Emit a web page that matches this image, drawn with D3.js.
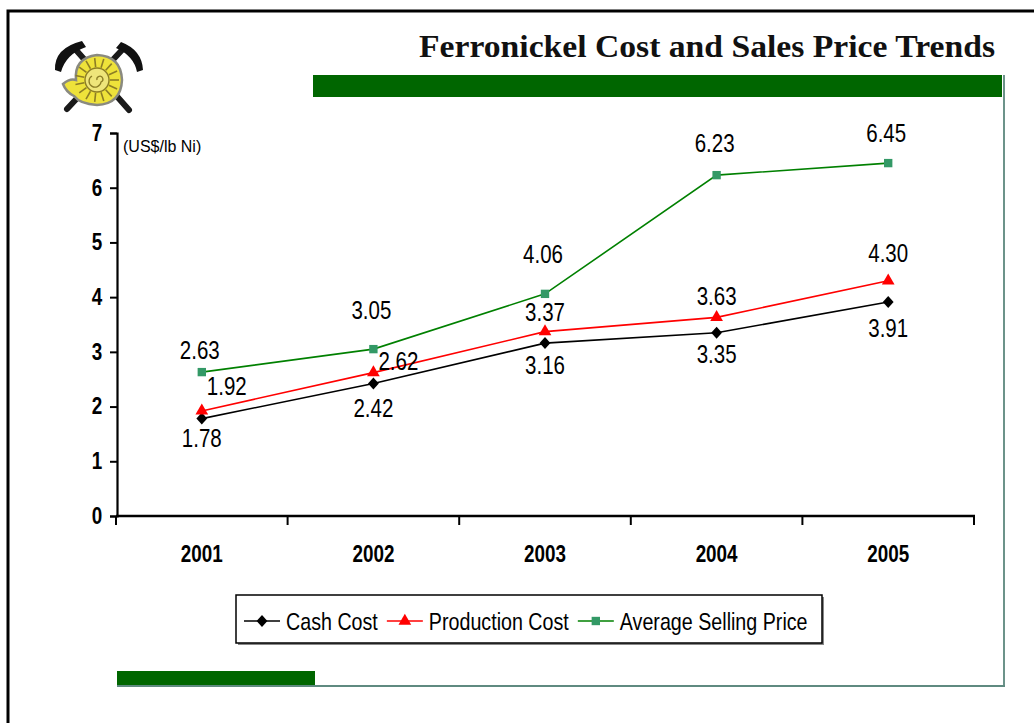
<!DOCTYPE html>
<html>
<head>
	<meta charset="utf-8">
	<title>Ferronickel Cost and Sales Price Trends</title>
	<script src="https://d3js.org/d3.v7.min.js"></script>
	<style>
		body { margin: 0; background: #fff; }
		svg { display: block; }
	</style>
</head>
<body>
</body>
<script>
	// chart values
	var years = ["2001", "2002", "2003", "2004", "2005"];
	var cashCost = [1.78, 2.42, 3.16, 3.35, 3.91];
	var productionCost = [1.92, 2.62, 3.37, 3.63, 4.30];
	var sellingPrice = [2.63, 3.05, 4.06, 6.23, 6.45];
	var yTicks = [0, 1, 2, 3, 4, 5, 6, 7];
	var seriesNames = ["Cash Cost", "Production Cost", "Average Selling Price"];

	// no Arial Narrow here, so squeeze Liberation Sans horizontally
	var sans = "'Liberation Sans', Arial, sans-serif";
	var squeeze = 0.82;
	var width = 1034, height = 723;

	var svg = d3.select("body").append("svg").attr("width", width).attr("height", height);

	function narrowText(parent, x, y, str, size, anchor, weight) {
		return parent.append("text")
			.attr("transform", "translate(" + x + "," + y + ") scale(" + squeeze + ",1)")
			.attr("font-family", sans).attr("font-size", size)
			.attr("font-weight", weight || "normal")
			.attr("text-anchor", anchor || "start").attr("fill", "#000").text(str);
	}

	// slide frame
	svg.append("rect").attr("x", 8).attr("y", 11).attr("width", width + 20).attr("height", height + 20)
		.attr("fill", "none").attr("stroke", "#000").attr("stroke-width", 3);
	svg.append("rect").attr("x", 313).attr("y", 75).attr("width", 689).attr("height", 22).attr("fill", "#006600");
	svg.append("rect").attr("x", 117).attr("y", 671).attr("width", 198).attr("height", 15).attr("fill", "#006600");
	svg.append("line").attr("x1", 1004).attr("x2", 1004).attr("y1", 75).attr("y2", 687)
		.attr("stroke", "#3b6f63").attr("stroke-width", 1.5);
	svg.append("line").attr("x1", 117).attr("x2", 1005).attr("y1", 686).attr("y2", 686)
		.attr("stroke", "#5f8a80").attr("stroke-width", 2);

	svg.append("text").attr("x", 995).attr("y", 57).attr("text-anchor", "end")
		.attr("font-family", "'Liberation Serif', 'Times New Roman', serif").attr("font-weight", "bold")
		.attr("font-size", 32).attr("textLength", 576).attr("lengthAdjust", "spacingAndGlyphs")
		.attr("fill", "#111").text("Ferronickel Cost and Sales Price Trends");

	// logo: crossed picks with an ammonite
	var logo = svg.append("g");
	logo.append("line").attr("x1", 76).attr("y1", 50).attr("x2", 129).attr("y2", 110)
		.attr("stroke", "#1a1a1a").attr("stroke-width", 6).attr("stroke-linecap", "round");
	logo.append("line").attr("x1", 122).attr("y1", 50).attr("x2", 67).attr("y2", 109)
		.attr("stroke", "#1a1a1a").attr("stroke-width", 6).attr("stroke-linecap", "round");
	logo.append("path").attr("d", "M55,70 Q54,48 82,41 L86,47 Q66,54 61,72 Z").attr("fill", "#111");
	logo.append("path").attr("d", "M143,70 Q142,50 121,42 L116,48 Q134,56 137,72 Z").attr("fill", "#111");
	logo.append("path").attr("d", "M63,84 Q70,78 76,80 Q74,58 97,55 Q121,56 122,80 Q121,104 97,105 Q80,104 74,96 Q66,92 63,84 Z")
		.attr("fill", "#eee23a").attr("stroke", "#8a8a80").attr("stroke-width", 2.5);
	var ribs = d3.range(0, 360, 24);
	logo.append("g").selectAll("line").data(ribs).enter().append("line")
		.attr("x1", function(a) { return 97 + 13 * Math.cos(a * Math.PI / 180); })
		.attr("y1", function(a) { return 80 + 13 * Math.sin(a * Math.PI / 180); })
		.attr("x2", function(a) { return 97 + 22 * Math.cos(a * Math.PI / 180); })
		.attr("y2", function(a) { return 80 + 22 * Math.sin(a * Math.PI / 180); })
		.attr("stroke", "#8c7d25").attr("stroke-width", 1.6);
	logo.append("circle").attr("cx", 97).attr("cy", 80).attr("r", 12).attr("fill", "#efe57a")
		.attr("stroke", "#8c7d25").attr("stroke-width", 1.4);
	logo.append("path").attr("d", "M97,80 a3,3 0 1 1 4,2 a6,6 0 1 1 -9,-6")
		.attr("fill", "none").attr("stroke", "#8c7d25").attr("stroke-width", 1.3);

	// scales
	var x = d3.scaleBand().domain(years).range([116, 974]);
	var y = d3.scaleLinear().domain([0, 7]).range([516, 133]);

	var yAxisG = svg.append("g").attr("transform", "translate(117,0)")
		.call(d3.axisLeft(y).tickValues(yTicks).tickSize(7).tickPadding(8).tickFormat(d3.format("d")));
	yAxisG.select(".domain").attr("stroke-width", 2.2);
	yAxisG.selectAll(".tick line").attr("stroke-width", 2);
	yAxisG.selectAll("text").attr("font-family", sans).attr("font-weight", "bold")
		.attr("font-size", 23).attr("fill", "#000").attr("x", -18).attr("transform", "scale(" + squeeze + ",1)");

	var xAxisG = svg.append("g").attr("transform", "translate(0,516)")
		.call(d3.axisBottom(x).tickSize(0).tickPadding(30));
	xAxisG.select(".domain").attr("stroke-width", 2.5).attr("d", "M116,0H975");
	xAxisG.selectAll("text").attr("font-family", sans).attr("font-weight", "bold")
		.attr("font-size", 23).attr("fill", "#000").attr("transform", "scale(" + squeeze + ",1)");
	// category separator ticks
	xAxisG.selectAll(".sep").data(years.concat(["end"])).enter().append("line")
		.attr("x1", function(d, i) { return i < years.length ? x(d) : x.range()[1]; })
		.attr("x2", function(d, i) { return i < years.length ? x(d) : x.range()[1]; })
		.attr("y1", 0).attr("y2", 9).attr("stroke", "#000").attr("stroke-width", 2);

	svg.append("text").attr("x", 123).attr("y", 152).attr("font-family", sans)
		.attr("font-size", 16).attr("fill", "#000").text("(US$/lb Ni)");

	var cx = function(i) { return x(years[i]) + x.bandwidth() / 2; };

	var diamond = { draw: function(ctx, size) {
		var r = Math.sqrt(size / 2);
		ctx.moveTo(0, -r); ctx.lineTo(r * 0.9, 0); ctx.lineTo(0, r); ctx.lineTo(-r * 0.9, 0); ctx.closePath();
	} };

	var series = [
		{ name: seriesNames[0], values: cashCost, color: "#000", marker: diamond, fill: "#000", size: 72 },
		{ name: seriesNames[1], values: productionCost, color: "#ff0000", marker: d3.symbolTriangle, fill: "#ff0000", size: 70 },
		{ name: seriesNames[2], values: sellingPrice, color: "#008000", marker: d3.symbolSquare, fill: "#339966", size: 70 }
	];

	var line = d3.line().x(function(d, i) { return cx(i); }).y(function(d) { return y(d); });

	series.forEach(function(s) {
		svg.append("path").datum(s.values).attr("d", line).attr("fill", "none")
			.attr("stroke", s.color).attr("stroke-width", 1.6);
		svg.append("g").selectAll("path").data(s.values).enter().append("path")
			.attr("d", d3.symbol().type(s.marker).size(s.size))
			.attr("transform", function(d, i) { return "translate(" + cx(i) + "," + y(d) + ")"; })
			.attr("fill", s.fill);
	});

	// data labels, nudged the way they sit on the slide
	var cashNudge = [28, 33, 31, 30, 35];
	var prodNudge = [-16, -3, -11, -12, -19];
	var priceNudge = [-13, -30, -31, -23, -21];
	var labelG = svg.append("g");
	cashCost.forEach(function(d, i) {
		narrowText(labelG, cx(i), y(d) + cashNudge[i], d.toFixed(2), 25, "middle");
	});
	productionCost.forEach(function(d, i) {
		if (i < 2) narrowText(labelG, cx(i) + 5, y(d) + prodNudge[i], d.toFixed(2), 25, "start");
		else narrowText(labelG, cx(i), y(d) + prodNudge[i], d.toFixed(2), 25, "middle");
	});
	sellingPrice.forEach(function(d, i) {
		narrowText(labelG, cx(i) - 2, y(d) + priceNudge[i], d.toFixed(2), 25, "middle");
	});

	// legend
	var legend = svg.append("g");
	legend.append("rect").attr("x", 238).attr("y", 597).attr("width", 586).attr("height", 48).attr("fill", "#888");
	legend.append("rect").attr("x", 236).attr("y", 595).attr("width", 586).attr("height", 48)
		.attr("fill", "#fff").attr("stroke", "#000").attr("stroke-width", 1.5);
	var lx = 244;
	series.forEach(function(s) {
		var item = legend.append("g");
		item.append("line").attr("x1", lx).attr("x2", lx + 36).attr("y1", 621).attr("y2", 621)
			.attr("stroke", s.color).attr("stroke-width", 1.6);
		item.append("path").attr("d", d3.symbol().type(s.marker).size(s.size))
			.attr("transform", "translate(" + (lx + 18) + ",621)")
			.attr("fill", s.fill);
		var t = narrowText(item, lx + 42, 630, s.name, 24, "start");
		lx += 42 + t.node().getComputedTextLength() * squeeze + 9;
	});
</script>
</html>
